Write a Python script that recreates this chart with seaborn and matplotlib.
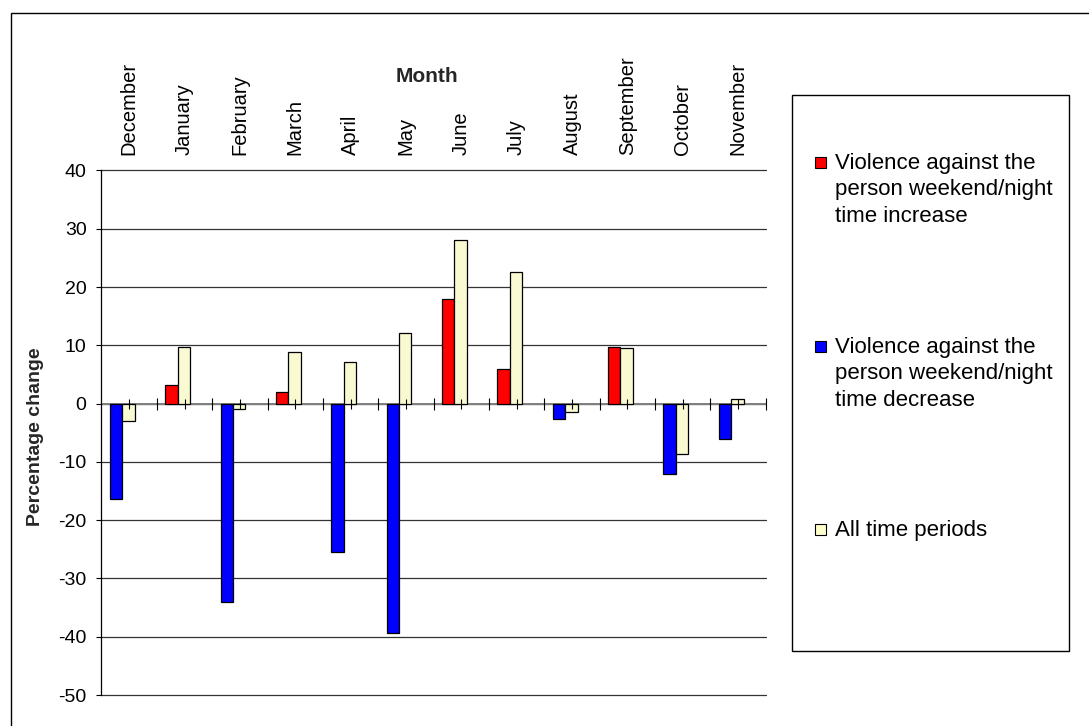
import matplotlib
matplotlib.use("Agg")
import matplotlib.pyplot as plt
import seaborn as sns
import pandas as pd
import numpy as np
from matplotlib.patches import Rectangle

# ---------------- data ----------------
months = ["December", "January", "February", "March", "April", "May",
          "June", "July", "August", "September", "October", "November"]
weekend_night = [-16.4, 3.2, -34.0, 2.0, -25.5, -39.3, 18.0, 5.9, -2.7, 9.7, -12.1, -6.0]
all_periods = [-2.9, 9.7, -1.0, 8.8, 7.1, 12.2, 28.0, 22.6, -1.4, 9.5, -8.7, 0.8]
series_names = ["Weekend/night time", "All time periods"]
legend_labels = [
    ["Violence against the", "person weekend/night", "time increase"],
    ["Violence against the", "person weekend/night", "time decrease"],
    ["All time periods"],
]
y_ticks = list(range(-50, 41, 10))
x_title = "Month"
y_title = "Percentage change"

COLOR_INC = "#FF0000"
COLOR_DEC = "#0000FF"
COLOR_ALL = "#FFFFCC"

sns.set_style("white")
plt.rcParams["font.family"] = ["Liberation Sans", "DejaVu Sans"]
plt.rcParams["axes.unicode_minus"] = False

W, H = 1089, 726
fig = plt.figure(figsize=(W / 100, H / 100), dpi=100)


def fx(px):
    return px / W


def fy(py):
    return 1 - py / H


ax = fig.add_axes([fx(101.5), fy(695), fx(765.7) - fx(101.5), fy(170.5) - fy(695)])

df = pd.DataFrame({
    "Month": months * 2,
    "Series": [series_names[0]] * len(months) + [series_names[1]] * len(months),
    "Value": weekend_night + all_periods,
})

sns.barplot(data=df, x="Month", y="Value", hue="Series", order=months,
            hue_order=series_names,
            palette={series_names[0]: COLOR_INC, series_names[1]: COLOR_ALL},
            width=0.45, errorbar=None, edgecolor="black", linewidth=0.9,
            legend=False, ax=ax, zorder=3)

# colour weekend/night bars by sign
for bar in ax.containers[0]:
    bar.set_facecolor(COLOR_INC if bar.get_height() >= 0 else COLOR_DEC)
# Excel-like cluster offset within category
for bar in ax.patches:
    bar.set_x(bar.get_x() - 0.125)

ax.set_xlim(-0.5, len(months) - 0.5)
ax.set_ylim(min(y_ticks), max(y_ticks))
ax.set_yticks(y_ticks)
ax.set_xlabel("")
ax.set_ylabel("")

ax.set_axisbelow(True)
ax.yaxis.grid(True, color="#333333", lw=0.9)
ax.xaxis.grid(False)
for gl in ax.get_ygridlines():
    gl.set_clip_on(False)
ax.axhline(0, color="#808080", lw=1.4, zorder=2.5)

for s in ["top", "right", "bottom"]:
    ax.spines[s].set_visible(False)
ax.spines["left"].set_color("black")
ax.spines["left"].set_linewidth(0.9)

ax.tick_params(axis="y", direction="out", length=3.8, width=0.8, color="black",
               pad=7, labelsize=14, left=True, labelcolor="black")
ax.xaxis.tick_top()
ax.tick_params(axis="x", length=0, pad=11.5, labelsize=14.5, labelrotation=90,
               top=True, bottom=False, labeltop=True, labelbottom=False,
               labelcolor="black")

# category tick marks on the zero line
cat_pos = np.arange(len(months))
ax.plot(cat_pos + 0.5, np.zeros(len(months)), ls="none", marker="|", ms=8,
        mew=0.8, color="black", zorder=6, clip_on=False)
ax.plot(cat_pos, np.zeros(len(months)), ls="none", marker="|", ms=7,
        mew=0.8, color="black", zorder=6, clip_on=False)

# titles
fig.text(fx(426.5), fy(77), x_title, ha="center", va="center", fontsize=15,
         fontweight="bold")
fig.text(fx(36), fy(437), y_title, rotation=90, ha="center", va="center",
         fontsize=14, fontweight="bold")

# legend (Excel style)
fig.add_artist(Rectangle((fx(792), fy(651)), fx(1069) - fx(792), fy(95) - fy(651),
                         transform=fig.transFigure, fill=False, edgecolor="black",
                         lw=1.0))
legend_colors = [COLOR_INC, COLOR_DEC, COLOR_ALL]
first_line_y = [163, 347.5, 530.5]
line_step = 26.5
sq = 11
for color, lines, y0 in zip(legend_colors, legend_labels, first_line_y):
    fig.add_artist(Rectangle((fx(820 - sq / 2), fy(y0 - 1 + sq / 2)), sq / W, sq / H,
                             transform=fig.transFigure, facecolor=color,
                             edgecolor="black", lw=0.8))
    for k, line in enumerate(lines):
        fig.text(fx(835), fy(y0 + k * line_step), line, ha="left", va="center",
                 fontsize=16, color="black")

# outer chart border
fig.add_artist(Rectangle((fx(11), fy(760)), fx(1120) - fx(11), fy(13) - fy(760),
                         transform=fig.transFigure, fill=False, edgecolor="black",
                         lw=1.0))

fig.savefig("out.png", dpi=100)
